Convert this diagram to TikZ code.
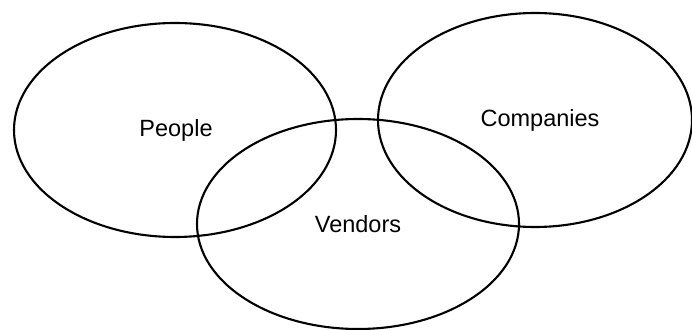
\documentclass[tikz,border=0pt]{standalone}
\usepackage{fontspec}
\setmainfont{Liberation Sans}
\begin{document}
\begin{tikzpicture}[x=1pt,y=1pt,
  setring/.style={draw=black, line width=2.1pt},
  setlabel/.style={anchor=base, inner sep=0pt, font=\fontsize{23.5}{28}\selectfont}]
  \useasboundingbox (0,0) rectangle (692,329);
  % the three sets
  \draw[setring] (175,199) ellipse [x radius=161, y radius=107];
  \draw[setring] (535,209) ellipse [x radius=157, y radius=107];
  \draw[setring] (358,105) ellipse [x radius=161, y radius=105];
  % set names
  \node[setlabel] (people) at (176,192) {People};
  \node[setlabel] (companies) at (540,202) {Companies};
  \node[setlabel] (vendors) at (358,96) {Vendors};
\end{tikzpicture}
\end{document}
